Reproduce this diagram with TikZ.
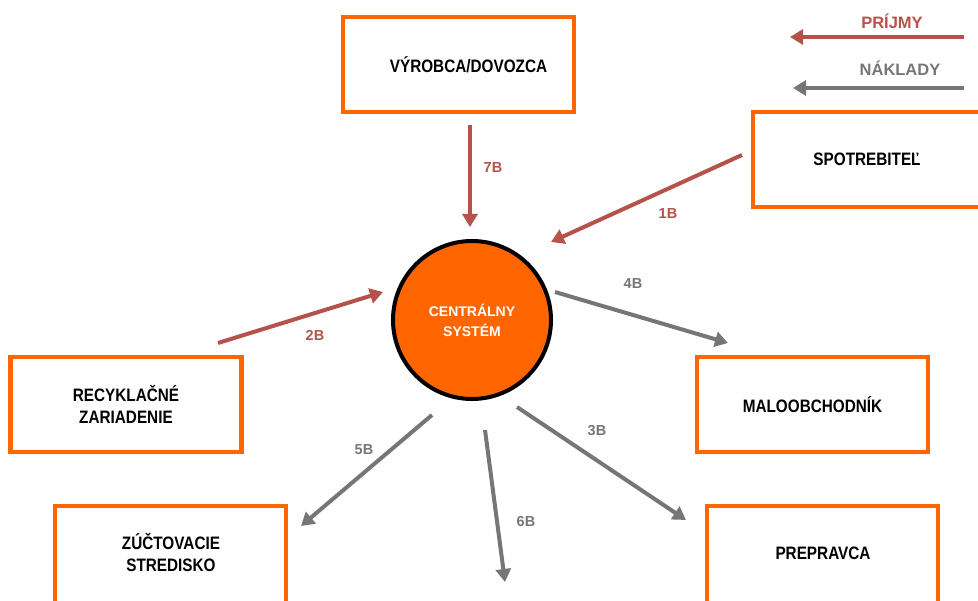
\documentclass[tikz,border=0pt]{standalone}
\usepackage{fontspec}
\setmainfont{Liberation Sans}
\newfontfamily\boxfont[FakeStretch=0.85]{Liberation Sans}
\usetikzlibrary{arrows.meta}
\definecolor{orng}{RGB}{255,102,0}
\definecolor{revc}{RGB}{181,82,74}
\definecolor{costc}{RGB}{118,118,118}
\begin{document}
\begin{tikzpicture}[x=1pt,y=-1pt,
  box/.style={draw=orng, line width=4.8pt, fill=white, minimum width=231pt, minimum height=95pt,
    align=center, inner sep=0pt, font=\boxfont\bfseries\fontsize{18}{22}\selectfont},
  boxtext/.style={align=center, inner sep=0pt, font=\boxfont\bfseries\fontsize{18}{22}\selectfont},
  hub/.style={circle, draw=black, line width=4pt, fill=orng, minimum size=158pt, inner sep=0pt,
    align=center, text=white, font=\bfseries\fontsize{14}{20}\selectfont},
  revarrow/.style={draw=revc, line width=4pt, -{Triangle[length=13pt,width=15pt]}},
  costarrow/.style={draw=costc, line width=4pt, -{Triangle[length=13pt,width=15pt]}},
  revlbl/.style={text=revc, font=\bfseries\fontsize{14.5}{16}\selectfont},
  costlbl/.style={text=costc, font=\bfseries\fontsize{14.5}{16}\selectfont},
  legrev/.style={text=revc, font=\bfseries\fontsize{16.5}{18}\selectfont},
  legcost/.style={text=costc, font=\bfseries\fontsize{16.5}{18}\selectfont}]
\useasboundingbox (0,0) rectangle (978,601);

% boxes
\node[box] (vyr) at (458.5,64.5) {\hspace*{20pt}VÝROBCA/DOVOZCA};
\node[box, minimum width=246pt] (spo) at (876,159.5) {};
\node[boxtext] (spot) at (867,159) {SPOTREBITEĽ};
\node[box] (rec) at (126,404.5) {RECYKLAČNÉ\\ZARIADENIE};
\node[box, minimum height=110pt] (zuc) at (170.5,561) {};
\node[boxtext] (zuct) at (171,552.5) {ZÚČTOVACIE\\STREDISKO};
\node[box, minimum height=110pt] (pre) at (822.5,561) {};
\node[boxtext] (pret) at (823,553) {PREPRAVCA};
\node[box] (mal) at (812.5,404.5) {MALOOBCHODNÍK};

% central system
\node[hub] (cs) at (472,320) {CENTRÁLNY\\SYSTÉM};

% arrow end points
\coordinate (a7s) at (470,125);  \coordinate (a7e) at (470,227);
\coordinate (a1s) at (742,155);  \coordinate (a1e) at (551,242);
\coordinate (a2s) at (218,343);  \coordinate (a2e) at (383,292);
\coordinate (a4s) at (555,292);  \coordinate (a4e) at (728,343);
\coordinate (a3s) at (517,407);  \coordinate (a3e) at (686,520);
\coordinate (a5s) at (432,415);  \coordinate (a5e) at (301,526);
\coordinate (a6s) at (485,430);  \coordinate (a6e) at (505,582);

\draw[revarrow] (a7s) -- (a7e);
\draw[revarrow] (a1s) -- (a1e);
\draw[revarrow] (a2s) -- (a2e);
\draw[costarrow] (a4s) -- (a4e);
\draw[costarrow] (a3s) -- (a3e);
\draw[costarrow] (a5s) -- (a5e);
\draw[costarrow] (a6s) -- (a6e);

% labels
\node[revlbl] (l7) at (493,168) {7B};
\node[revlbl] (l1) at (668,214) {1B};
\node[revlbl] (l2) at (315,335) {2B};
\node[costlbl] (l4) at (633,284) {4B};
\node[costlbl] (l3) at (597,431) {3B};
\node[costlbl] (l5) at (364,450) {5B};
\node[costlbl] (l6) at (526,522) {6B};

% legend
\node[legrev] (prij) at (892,21) {PRÍJMY};
\node[legcost] (nakl) at (900,68) {NÁKLADY};
\coordinate (lg1s) at (964,37); \coordinate (lg1e) at (790,37);
\coordinate (lg2s) at (964,88); \coordinate (lg2e) at (793,88);
\draw[revarrow] (lg1s) -- (lg1e);
\draw[costarrow] (lg2s) -- (lg2e);
\end{tikzpicture}
\end{document}
